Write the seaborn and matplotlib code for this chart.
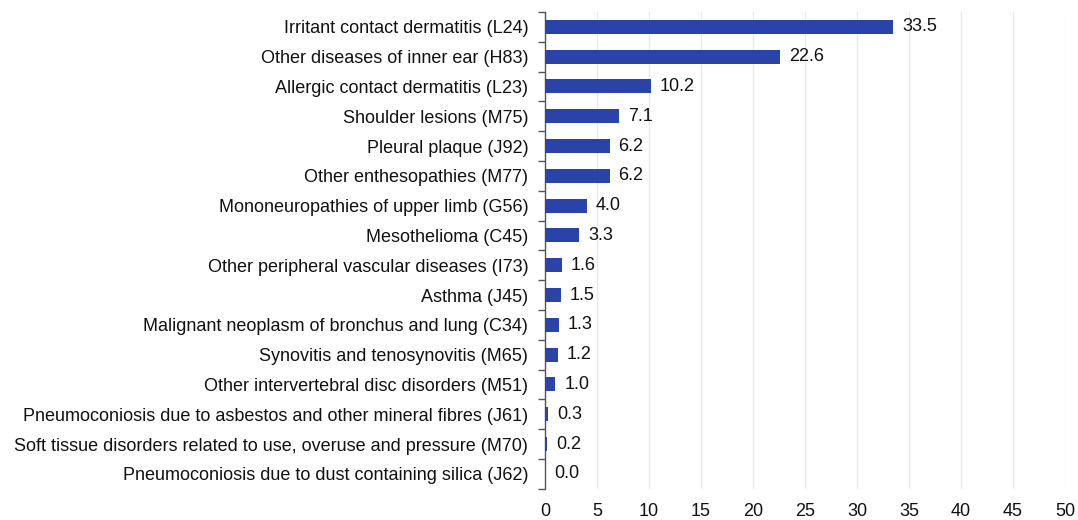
import matplotlib
matplotlib.use("Agg")
import matplotlib.pyplot as plt
import seaborn as sns
import pandas as pd

# ============================================
# DATA
# ============================================

diseases = [
    "Irritant contact dermatitis (L24)",
    "Other diseases of inner ear (H83)",
    "Allergic contact dermatitis (L23)",
    "Shoulder lesions (M75)",
    "Pleural plaque (J92)",
    "Other enthesopathies (M77)",
    "Mononeuropathies of upper limb (G56)",
    "Mesothelioma (C45)",
    "Other peripheral vascular diseases (I73)",
    "Asthma (J45)",
    "Malignant neoplasm of bronchus and lung (C34)",
    "Synovitis and tenosynovitis (M65)",
    "Other intervertebral disc disorders (M51)",
    "Pneumoconiosis due to asbestos and other mineral fibres (J61)",
    "Soft tissue disorders related to use, overuse and pressure (M70)",
    "Pneumoconiosis due to dust containing silica (J62)",
]
values = [33.5, 22.6, 10.2, 7.1, 6.2, 6.2, 4.0, 3.3, 1.6, 1.5, 1.3, 1.2, 1.0, 0.3, 0.2, 0.0]
x_ticks = [0, 5, 10, 15, 20, 25, 30, 35, 40, 45, 50]

df = pd.DataFrame({"Disease": diseases, "Value": values})

# ============================================
# PLOT
# ============================================

sns.set_style("white")
plt.rcParams["font.family"] = ["Liberation Sans", "DejaVu Sans"]

fig = plt.figure(figsize=(10.78, 5.2), dpi=100)
ax = fig.add_axes([0.5056, 0.06, 0.4824, 0.917])

bar_color = "#2a43a8"
sns.barplot(data=df, x="Value", y="Disease", color=bar_color, width=0.47,
            saturation=1, linewidth=0, ax=ax, zorder=3)

for i, v in enumerate(values):
    ax.text(v + 0.85, i, f"{v:.1f}", va="center", ha="left", fontsize=13, color="#111111")

ax.set_xlim(0, 50)
ax.set_ylim(len(diseases) - 0.5, -0.5)
ax.set_xticks(x_ticks)
ax.set_xlabel("")
ax.set_ylabel("")
ax.xaxis.grid(True, color="#e8e8e8", linewidth=0.9, zorder=0)
ax.yaxis.grid(False)

for side in ["top", "right", "bottom"]:
    ax.spines[side].set_visible(False)
ax.spines["left"].set_color("#555555")
ax.spines["left"].set_linewidth(1.0)

# category ticks sit between bars
ax.set_yticks(range(len(diseases)))
ax.set_yticklabels(diseases)
ax.set_yticks([i - 0.5 for i in range(len(diseases) + 1)], minor=True)
ax.tick_params(axis="y", which="major", length=0, pad=12, labelsize=13, labelcolor="#111111")
ax.tick_params(axis="y", which="minor", direction="out", length=5, width=1.0,
               color="#555555", left=True, right=False)
ax.tick_params(axis="x", length=0, pad=10, labelsize=13, labelcolor="#111111")

fig.savefig("out.png", dpi=100)
